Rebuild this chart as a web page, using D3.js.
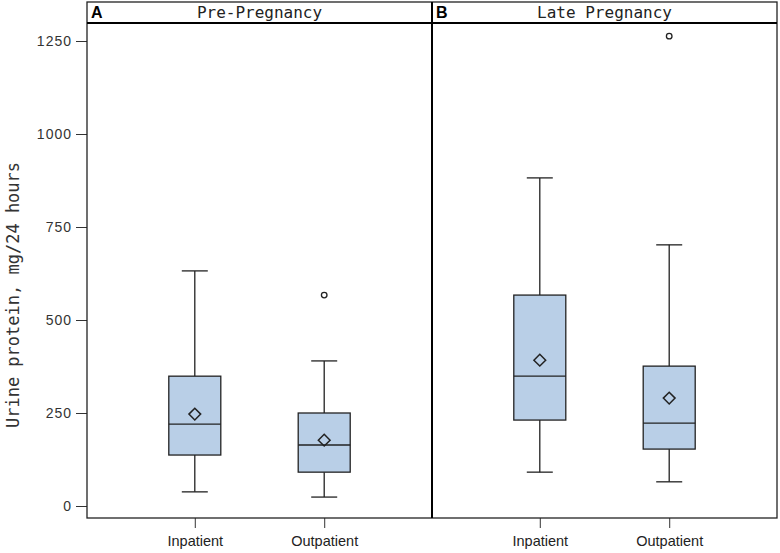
<!DOCTYPE html>
<html><head><meta charset="utf-8">
<script src="https://cdn.jsdelivr.net/npm/d3@7"></script>
<style>body{margin:0;background:#fff}svg{display:block}</style>
</head><body>
<svg id="c" width="780" height="553"></svg>
<script>
const panels = ["Pre-Pregnancy", "Late Pregnancy"];
const panelLetters = ["A", "B"];
const categories = ["Inpatient", "Outpatient"];
const yTicks = [0, 250, 500, 750, 1000, 1250];
// per panel, per category: [min, q1, median, q3, max]
const preBoxes = [[38, 137, 220, 349, 632], [24, 91, 164, 250, 390]];
const lateBoxes = [[91, 231, 349, 567, 882], [65, 153, 223, 376, 702]];
const preMeans = [247, 177];
const lateMeans = [392, 290];
const preOutliers = [[], [567]];
const lateOutliers = [[], [1263]];

const boxes = [preBoxes, lateBoxes];
const means = [preMeans, lateMeans];
const outliers = [preOutliers, lateOutliers];

const svg = d3.select("#c");
const L = 87, R = 777, T = 2, HB = 23, B = 518, MID = 432;
const y = d3.scaleLinear().domain([0, 1250]).range([506, 41]);
const panelX = [[L, MID], [MID, R]];

// y axis
const yAxis = svg.append("g").attr("transform", `translate(${L},0)`)
  .call(d3.axisLeft(y).tickValues(yTicks).tickFormat(d3.format("d")).tickSize(11).tickPadding(4));
yAxis.select(".domain").remove();
yAxis.selectAll("line").attr("stroke", "#333");
yAxis.selectAll("text").attr("font-family", "Liberation Sans, Arial, sans-serif")
  .attr("font-size", 14).attr("fill", "#333").style("letter-spacing", "1px");

svg.append("text").attr("transform", `translate(19,${295}) rotate(-90)`)
  .attr("text-anchor", "middle").attr("font-family", "DejaVu Sans Mono, monospace")
  .attr("font-size", 17).attr("fill", "#333").text("Urine protein, mg/24 hours");

panels.forEach((p, pi) => {
  const [x0, x1] = panelX[pi];
  const x = d3.scalePoint().domain(categories).range([x0, x1]).padding(0.833);
  const g = svg.append("g");
  // x axis
  const xa = svg.append("g").attr("transform", `translate(0,${B})`)
    .call(d3.axisBottom(x).tickSize(10).tickPadding(6));
  xa.select(".domain").remove();
  xa.selectAll("line").attr("stroke", "#333");
  xa.selectAll("text").attr("font-family", "Liberation Sans, Arial, sans-serif")
    .attr("font-size", 14.5).attr("fill", "#222").attr("dy", "0.85em");

  // header
  svg.append("text").attr("x", x0 + 4).attr("y", 18).attr("font-family", "Liberation Sans, Arial, sans-serif")
    .attr("font-weight", "bold").attr("font-size", 16).text(panelLetters[pi]);
  svg.append("text").attr("x", (x0 + x1) / 2).attr("y", 18).attr("text-anchor", "middle")
    .attr("font-family", "DejaVu Sans Mono, monospace").attr("font-size", 16).attr("fill", "#222").text(p);

  const bw = 52, cw = 26;
  categories.forEach((c, ci) => {
    const [mn, q1, md, q3, mx] = boxes[pi][ci];
    const cx = x(c);
    const st = "#222";
    g.append("line").attr("x1", cx).attr("x2", cx).attr("y1", y(q3)).attr("y2", y(mx)).attr("stroke", st).attr("stroke-width", 1.3);
    g.append("line").attr("x1", cx).attr("x2", cx).attr("y1", y(q1)).attr("y2", y(mn)).attr("stroke", st).attr("stroke-width", 1.3);
    g.append("line").attr("x1", cx - cw / 2).attr("x2", cx + cw / 2).attr("y1", y(mx)).attr("y2", y(mx)).attr("stroke", st).attr("stroke-width", 1.3);
    g.append("line").attr("x1", cx - cw / 2).attr("x2", cx + cw / 2).attr("y1", y(mn)).attr("y2", y(mn)).attr("stroke", st).attr("stroke-width", 1.3);
    g.append("rect").attr("x", cx - bw / 2).attr("width", bw).attr("y", y(q3)).attr("height", y(q1) - y(q3))
      .attr("fill", "#b9cfe7").attr("stroke", st).attr("stroke-width", 1.3);
    g.append("line").attr("x1", cx - bw / 2).attr("x2", cx + bw / 2).attr("y1", y(md)).attr("y2", y(md)).attr("stroke", st).attr("stroke-width", 1.3);
    g.append("path").attr("d", d3.symbol(d3.symbolDiamond2, 88)())
      .attr("transform", `translate(${cx},${y(means[pi][ci])})`).attr("fill", "none").attr("stroke", st).attr("stroke-width", 1.5);
    outliers[pi][ci].forEach(o => {
      g.append("circle").attr("cx", cx).attr("cy", y(o)).attr("r", 2.8).attr("fill", "#fff").attr("stroke", st).attr("stroke-width", 1.3);
    });
  });
});

// frame
svg.append("rect").attr("x", L).attr("y", T).attr("width", R - L).attr("height", B - T)
  .attr("fill", "none").attr("stroke", "#222").attr("stroke-width", 1.3);
svg.append("line").attr("x1", L).attr("x2", R).attr("y1", HB).attr("y2", HB).attr("stroke", "#000").attr("stroke-width", 2);
svg.append("line").attr("x1", MID).attr("x2", MID).attr("y1", T).attr("y2", B).attr("stroke", "#000").attr("stroke-width", 2);
</script>
</body></html>
